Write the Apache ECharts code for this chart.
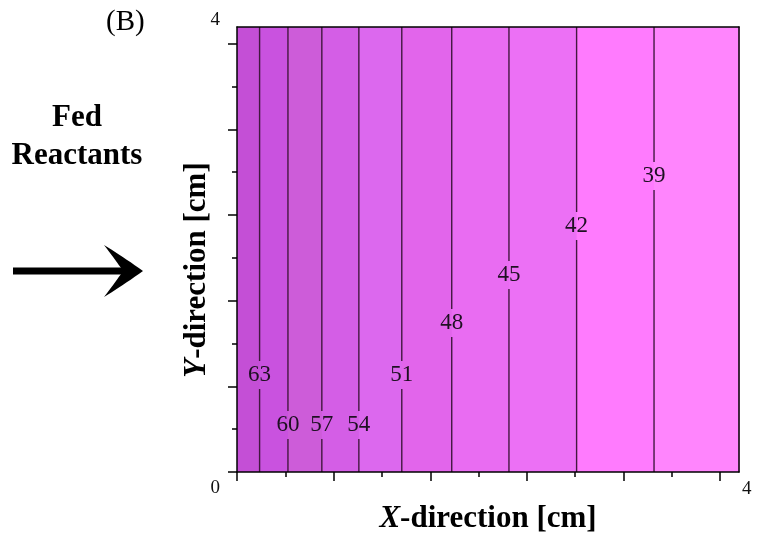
<!DOCTYPE html>
<html><head><meta charset="utf-8">
<script src="https://cdn.jsdelivr.net/npm/echarts@6/dist/echarts.min.js"></script>
<style>html,body{margin:0;padding:0;background:#fff}#c{width:760px;height:534px}</style>
</head><body><div id="c"></div>
<script>
// ---- data ----
const contourLevels = [63, 60, 57, 54, 51, 48, 45, 42, 39];
const contourX = [0.180, 0.406, 0.676, 0.971, 1.313, 1.711, 2.167, 2.706, 3.323];
const labelY = [0.872, 0.422, 0.422, 0.422, 0.872, 1.339, 1.771, 2.211, 2.661];
const bandColors = ['#c44fd6', '#c952df', '#cd5cd9', '#d45ee6', '#dc68ee', '#e265eb', '#e96cf2', '#ec70f5', '#ff7bfe', '#ff85fd'];
const majorTicks = [0, 0.77, 1.54, 2.31, 3.08, 3.85];
const minorTicks = [0.385, 1.155, 1.925, 2.695, 3.465];
const xLabelValues = [4];
const yLabelValues = [0, 4];
const axisMin = 0, axisMax = 4;

const FONT = '"Liberation Serif", "DejaVu Serif", serif';
const edges = [axisMin].concat(contourX, [axisMax]);
const bandData = [];
for (let i = 0; i < edges.length - 1; i++) bandData.push([edges[i], edges[i + 1], i]);
const contourData = contourX.map((x, i) => [x, labelY[i], contourLevels[i]]);

function renderBand(params, api) {
  const x0 = api.value(0), x1 = api.value(1);
  const p0 = api.coord([x0, axisMax]);
  const p1 = api.coord([x1, axisMin]);
  return {
    type: 'rect',
    shape: { x: p0[0], y: p0[1], width: p1[0] - p0[0] + 0.6, height: p1[1] - p0[1] },
    style: { fill: bandColors[params.dataIndex] }
  };
}
function renderContour(params, api) {
  const x = api.value(0), ly = api.value(1), lvl = api.value(2);
  const top = api.coord([x, axisMax]), bot = api.coord([x, axisMin]), mid = api.coord([x, ly]);
  const gap = 14;
  const ls = { stroke: '#42183f', lineWidth: 1.4 };
  return {
    type: 'group',
    children: [
      { type: 'line', shape: { x1: top[0], y1: top[1], x2: mid[0], y2: mid[1] - gap }, style: ls },
      { type: 'line', shape: { x1: mid[0], y1: mid[1] + gap, x2: bot[0], y2: bot[1] }, style: ls },
      { type: 'text', x: mid[0], y: mid[1], style: { text: String(lvl), fill: '#1e1022', fontSize: 23, fontFamily: FONT, align: 'center', verticalAlign: 'middle' } }
    ]
  };
}

// arrowhead outline (decoration) built from quadratic curves
function quad(p0, c, p1, n) {
  const out = [];
  for (let k = 0; k <= n; k++) {
    const t = k / n, u = 1 - t;
    out.push([u * u * p0[0] + 2 * u * t * c[0] + t * t * p1[0], u * u * p0[1] + 2 * u * t * c[1] + t * t * p1[1]]);
  }
  return out;
}
const headPts = [].concat(
  quad([143, 271], [122, 256], [104, 245], 10),
  quad([104, 245], [117, 262], [123, 271], 10),
  quad([123, 271], [117, 280], [104, 297], 10),
  quad([104, 297], [122, 286], [143, 271], 10)
);

const lineStyleBlk = { color: '#000', width: 1.5 };
const chart = echarts.init(document.getElementById('c'));
chart.setOption({
  animation: false,
  grid: { left: 237, right: 21, top: 27, bottom: 62, containLabel: false, outerBoundsMode: 'none' },
  xAxis: [
    {
      type: 'value', min: axisMin, max: axisMax, position: 'bottom', offset: 0, z: 10,
      axisLine: { show: true, onZero: false, lineStyle: lineStyleBlk },
      axisTick: { show: true, customValues: majorTicks, length: 9, lineStyle: lineStyleBlk },
      axisLabel: { show: true, customValues: xLabelValues, margin: 8, align: 'left', padding: [0, 0, 0, 3], fontSize: 19, fontFamily: FONT, color: '#111' },
      splitLine: { show: false },
      name: '{i|X}-direction [cm]', nameLocation: 'middle', nameGap: 22,
      nameTextStyle: {
        fontSize: 31, fontWeight: 'bold', fontFamily: FONT, color: '#000', verticalAlign: 'top',
        rich: { i: { fontSize: 31, fontWeight: 'bold', fontStyle: 'italic', fontFamily: FONT, color: '#000' } }
      }
    },
    {
      type: 'value', min: axisMin, max: axisMax, position: 'bottom', offset: 0, z: 10,
      axisLine: { show: false },
      axisTick: { show: true, customValues: minorTicks, length: 5, lineStyle: lineStyleBlk },
      axisLabel: { show: false }, splitLine: { show: false }
    },
    {
      type: 'value', min: axisMin, max: axisMax, position: 'top', offset: 0, z: 10,
      axisLine: { show: true, onZero: false, lineStyle: lineStyleBlk },
      axisTick: { show: false }, axisLabel: { show: false }, splitLine: { show: false }
    }
  ],
  yAxis: [
    {
      type: 'value', min: axisMin, max: axisMax, position: 'left', offset: 0, z: 10,
      axisLine: { show: true, onZero: false, lineStyle: lineStyleBlk },
      axisTick: { show: true, customValues: majorTicks, length: 9, lineStyle: lineStyleBlk },
      axisLabel: {
        show: true, customValues: yLabelValues, margin: 17, fontSize: 19, fontFamily: FONT, color: '#111',
        formatter: v => (v === axisMin ? '{lo|' + v + '}' : '{hi|' + v + '}'),
        rich: {
          lo: { fontSize: 19, fontFamily: FONT, color: '#111', padding: [32, 0, 0, 0] },
          hi: { fontSize: 19, fontFamily: FONT, color: '#111', padding: [0, 0, 14, 0] }
        }
      },
      splitLine: { show: false }
    },
    {
      type: 'value', min: axisMin, max: axisMax, position: 'left', offset: 0, z: 10,
      axisLine: { show: false },
      axisTick: { show: true, customValues: minorTicks, length: 5, lineStyle: lineStyleBlk },
      axisLabel: { show: false }, splitLine: { show: false }
    },
    {
      type: 'value', min: axisMin, max: axisMax, position: 'right', offset: 0, z: 10,
      axisLine: { show: true, onZero: false, lineStyle: lineStyleBlk },
      axisTick: { show: false }, axisLabel: { show: false }, splitLine: { show: false }
    }
  ],
  series: [
    { type: 'custom', name: 'bands', xAxisIndex: 0, yAxisIndex: 0, data: bandData, renderItem: renderBand, silent: true, z: 1 },
    { type: 'custom', name: 'contours', xAxisIndex: 0, yAxisIndex: 0, data: contourData, renderItem: renderContour, silent: true, z: 3 }
  ],
  graphic: [
    { type: 'text', x: 106, y: 8, style: { text: '(B)', fontSize: 29, fontFamily: FONT, fill: '#000' } },
    { type: 'text', x: 77, y: 137, style: { text: 'Fed\nReactants', fontSize: 31, lineHeight: 38, fontWeight: 'bold', fontFamily: FONT, fill: '#000', align: 'center', verticalAlign: 'middle' } },
    {
      type: 'text', x: 197, y: 270, rotation: Math.PI / 2,
      style: {
        text: '{i|Y}-direction [cm]', fontSize: 31, fontWeight: 'bold', fontFamily: FONT, fill: '#000', align: 'center', verticalAlign: 'middle',
        rich: { i: { fontSize: 31, fontWeight: 'bold', fontStyle: 'italic', fontFamily: FONT, fill: '#000' } }
      }
    },
    { type: 'rect', shape: { x: 13, y: 267.5, width: 118, height: 7 }, style: { fill: '#000' } },
    { type: 'polygon', shape: { points: headPts }, style: { fill: '#000' } }
  ]
});
</script></body></html>
